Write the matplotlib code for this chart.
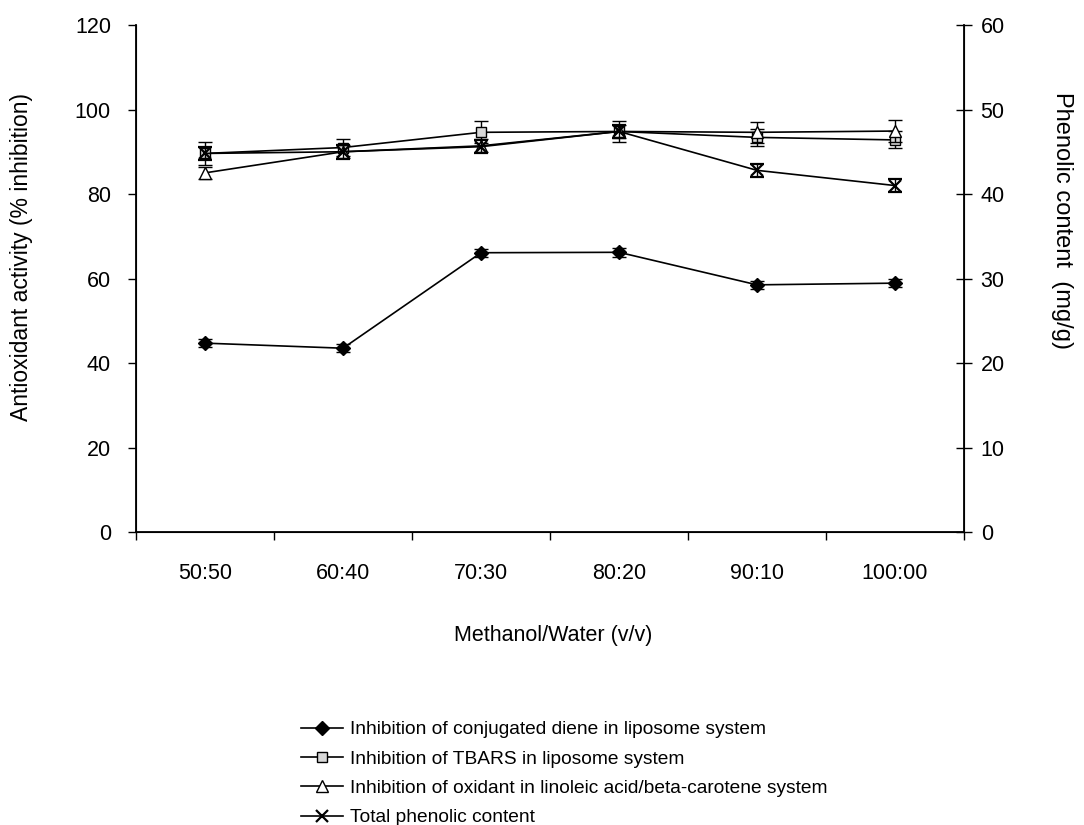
import matplotlib
matplotlib.use("Agg")
import matplotlib.pyplot as plt
from matplotlib.lines import Line2D

plt.rcParams['font.family'] = ['Liberation Sans', 'DejaVu Sans']

# solvent ratios (methanol/water, v/v)
ratios = ['50:50', '60:40', '70:30', '80:20', '90:10', '100:00']

# antioxidant activity, % inhibition (left axis)
diene = [44.7, 43.5, 66.1, 66.2, 58.5, 58.9]
diene_err = [1.0, 1.0, 1.0, 1.0, 1.0, 1.0]
tbars = [89.6, 91.0, 94.6, 94.8, 93.4, 92.8]
tbars_err = [2.8, 2.0, 2.6, 2.5, 2.0, 2.0]
linoleic = [85.0, 90.0, 91.4, 94.8, 94.6, 94.9]
linoleic_err = [1.5, 1.5, 1.5, 1.5, 2.5, 2.5]

# total phenolic content, mg/g (right axis)
phenolic = [44.8, 45.0, 45.6, 47.4, 42.8, 41.0]
phenolic_err = [0.8, 0.8, 0.8, 0.8, 0.8, 0.8]

labels = ['Inhibition of conjugated diene in liposome system',
          'Inhibition of TBARS in liposome system',
          'Inhibition of oxidant in linoleic acid/beta-carotene system',
          'Total phenolic content']

W, H = 1084, 825
fig = plt.figure(figsize=(W / 100, H / 100), dpi=100)
ax = fig.add_axes([136 / W, 1 - 532 / H, (964 - 136) / W, (532 - 25) / H])
ax2 = ax.twinx()

x = list(range(len(ratios)))
lw = 1.2
common = dict(color='black', lw=lw, elinewidth=1.0, capsize=5, capthick=1.0)

ax.errorbar(x, tbars, yerr=tbars_err, marker='s', ms=7, mfc='#d8d8d8', mec='black',
            mew=1.0, zorder=3, **common)
ax.errorbar(x, linoleic, yerr=linoleic_err, marker='^', ms=8, mfc='white', mec='black',
            mew=1.0, zorder=4, **common)
ax.errorbar(x, diene, yerr=diene_err, marker='D', ms=7.5, mfc='black', mec='black',
            zorder=5, **common)
ax2.errorbar(x, phenolic, yerr=phenolic_err, marker='x', ms=9, mec='black', mew=1.6,
             zorder=5, **common)

ax.set_xlim(-0.5, len(ratios) - 0.5)
ax.set_ylim(0, 120)
ax2.set_ylim(0, 60)
ax.set_yticks(range(0, 121, 20))
ax2.set_yticks(range(0, 61, 10))

# category boundaries get the ticks, names sit between them
ax.set_xticks([i - 0.5 for i in range(len(ratios) + 1)])
ax.set_xticklabels([])
ax.set_xticks(x, minor=True)
ax.set_xticklabels(ratios, minor=True)
ax.tick_params(axis='x', which='major', direction='out', length=6, width=1)
ax.tick_params(axis='x', which='minor', length=0, pad=22, labelsize=15.5)
ax.tick_params(axis='y', direction='out', length=6, width=1, labelsize=15.5, pad=12)
ax2.tick_params(axis='y', direction='inout', length=12, width=1, labelsize=15.5, pad=6)

ax.spines['top'].set_visible(False)
ax2.spines['top'].set_visible(False)
for sp in ('left', 'bottom'):
    ax.spines[sp].set_linewidth(1.3)
ax2.spines['right'].set_linewidth(1.3)

fig.text(553 / W, 1 - 636 / H, 'Methanol/Water (v/v)', ha='center', va='center', fontsize=15.5)
fig.text(22 / W, 1 - 257 / H, 'Antioxidant activity (% inhibition)', rotation=90,
         ha='center', va='center', fontsize=16.5)
fig.text(1062 / W, 1 - 220 / H, 'Phenolic content  (mg/g)', rotation=-90,
         ha='center', va='center', fontsize=17)

handles = [
    Line2D([], [], color='black', lw=lw, marker='D', ms=7.5, mfc='black'),
    Line2D([], [], color='black', lw=lw, marker='s', ms=7, mfc='#d8d8d8', mec='black'),
    Line2D([], [], color='black', lw=lw, marker='^', ms=8, mfc='white', mec='black'),
    Line2D([], [], color='black', lw=lw, marker='x', ms=9, mew=1.6),
]
fig.legend(handles, labels, loc='upper left', bbox_to_anchor=(301 / W, 1 - 721 / H),
           frameon=False, fontsize=13.8, handlelength=2.2, handletextpad=0.35,
           labelspacing=0.62, borderpad=0, borderaxespad=0)

fig.savefig('out.png', dpi=100)
